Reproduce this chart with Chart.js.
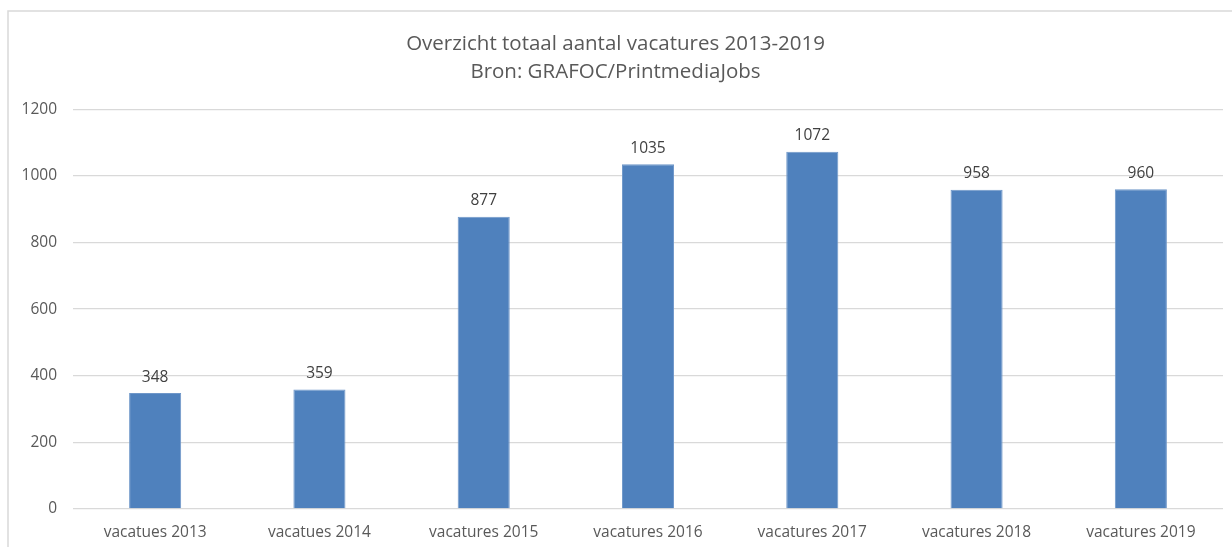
<!DOCTYPE html>
<html>
<head>
<meta charset="utf-8">
<script src="https://cdn.jsdelivr.net/npm/chart.js@4"></script>
<style>
  html, body { margin: 0; padding: 0; background: #fff; }
  #wrap { width: 1232px; height: 547px; position: relative; }
</style>
</head>
<body>
<div id="wrap"><canvas id="vacChart" width="1232" height="547"></canvas></div>
<script>
var categories = ["vacatues 2013", "vacatues 2014", "vacatures 2015", "vacatures 2016", "vacatures 2017", "vacatures 2018", "vacatures 2019"];
var vacatures = [348, 359, 877, 1035, 1072, 958, 960];
var titleLines = ["Overzicht totaal aantal vacatures 2013-2019", "Bron: GRAFOC/PrintmediaJobs"];

var fontFamily = "'Open Sans', 'Liberation Sans', sans-serif";
var textColor = "#595959";

// frame like the Excel chart border (only left and top edge visible)
var framePlugin = {
  id: "frame",
  beforeDraw: function (chart) {
    var c = chart.ctx;
    c.save();
    c.fillStyle = "#fff";
    c.fillRect(0, 0, chart.width, chart.height);
    c.strokeStyle = "#d9d9d9";
    c.lineWidth = 1.5;
    c.beginPath();
    c.moveTo(8, chart.height);
    c.lineTo(8, 11);
    c.lineTo(chart.width, 11);
    c.stroke();
    c.restore();
  },
};

var valueLabels = {
  id: "valueLabels",
  afterDatasetsDraw: function (chart) {
    var c = chart.ctx;
    var meta = chart.getDatasetMeta(0);
    c.save();
    c.font = "15.5px " + fontFamily;
    c.fillStyle = "#404040";
    c.textAlign = "center";
    c.textBaseline = "bottom";
    meta.data.forEach(function (bar, i) {
      c.fillText(String(vacatures[i]), bar.x, bar.y - 8);
    });
    c.restore();
  },
};

var ctx = document.getElementById("vacChart").getContext("2d");
var chart = new Chart(ctx, {
  type: "bar",
  data: {
    labels: categories,
    datasets: [
      {
        label: "vacatures",
        data: vacatures,
        backgroundColor: "#4f81bd",
        borderColor: "#6f97c9",
        borderWidth: 1,
        categoryPercentage: 1,
        barPercentage: 0.317,
      },
    ],
  },
  options: {
    responsive: false,
    animation: false,
    layout: { padding: { left: 8, right: 9, top: 0, bottom: 8 } },
    plugins: {
      legend: { display: false },
      tooltip: { enabled: false },
      title: {
        display: true,
        text: titleLines,
        color: textColor,
        font: { family: fontFamily, size: 20.5, weight: "normal", lineHeight: 1.37 },
        padding: { top: 30, bottom: 23 },
      },
    },
    scales: {
      x: {
        afterFit: function (scale) { scale.height = 30; },
        grid: { display: false, drawTicks: false },
        border: { display: false },
        ticks: {
          color: textColor,
          font: { family: fontFamily, size: 15.5, lineHeight: 1.2 },
          padding: 14,
          maxRotation: 0,
        },
      },
      y: {
        min: 0,
        max: 1200,
        afterFit: function (scale) { scale.width = 65; },
        grid: { color: "#d9d9d9", lineWidth: 1.3, drawTicks: false },
        border: { display: false },
        ticks: {
          stepSize: 200,
          color: textColor,
          font: { family: fontFamily, size: 15.5 },
          padding: 16,
          callback: function (v) { return String(v); },
        },
      },
    },
  },
  plugins: [framePlugin, valueLabels],
});
</script>
</body>
</html>
